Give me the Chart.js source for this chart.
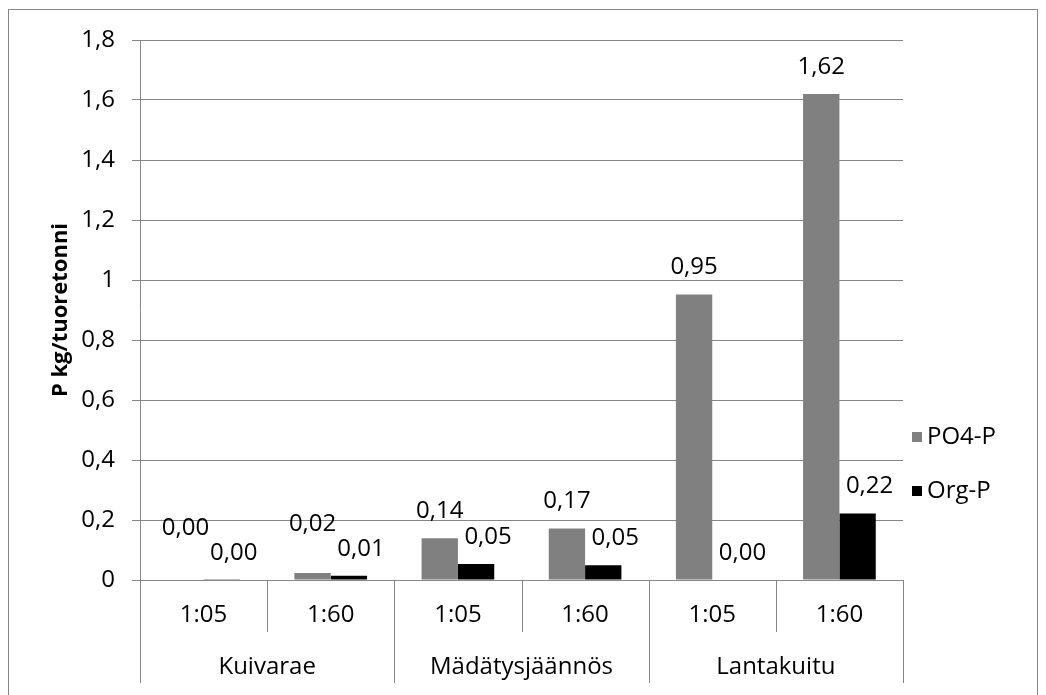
<!DOCTYPE html>
<html>
<head>
<meta charset="utf-8">
<script src="https://cdn.jsdelivr.net/npm/chart.js@4.4.0/dist/chart.umd.min.js"></script>
<style>
  html, body { margin: 0; padding: 0; background: #ffffff; }
  #wrap { width: 1046px; height: 695px; position: relative; }
</style>
</head>
<body>
<div id="wrap"><canvas id="c" width="1046" height="695"></canvas></div>
<script>
// Phosphorus per fresh tonne, by material and dilution ratio
const groups = ['Kuivarae', 'Mädätysjäännös', 'Lantakuitu'];
const categories = ['1:05', '1:60', '1:05', '1:60', '1:05', '1:60'];
const po4P = [0.000, 0.023, 0.139, 0.172, 0.952, 1.620];
const orgP = [0.001, 0.014, 0.053, 0.049, 0.000, 0.222];
const seriesNames = ['PO4-P', 'Org-P'];
const yMin = 0, yMax = 1.8, yStep = 0.2;

const FONT = '"Open Sans", Lato, "DejaVu Sans", sans-serif';
const FS = 24;
const GRID = '#868686';
const TXT = '#000000';

Chart.defaults.font.family = FONT;
Chart.defaults.font.size = FS;
Chart.defaults.color = TXT;

const comma = (v, d) => v.toFixed(d).replace('.', ',');

// white background and outer frame
const framePlugin = {
  id: 'frame',
  beforeDraw(chart) {
    const ctx = chart.ctx;
    ctx.save();
    ctx.fillStyle = '#ffffff';
    ctx.fillRect(0, 0, chart.width, chart.height);
    ctx.strokeStyle = GRID;
    ctx.lineWidth = 1;
    ctx.strokeRect(8.5, 9.5, 1029, 700);
    ctx.restore();
  }
};

// two-level category axis: separators and group names
const groupAxisPlugin = {
  id: 'groupAxis',
  afterDraw(chart) {
    const xs = chart.scales.x;
    const ctx = chart.ctx;
    const n = categories.length;
    const per = n / groups.length;
    const step = (xs.right - xs.left) / n;
    const top = xs.top;
    ctx.save();
    ctx.strokeStyle = GRID;
    ctx.lineWidth = 1;
    for (let i = 0; i <= n; i++) {
      const x = Math.round(xs.left + i * step) + 0.5;
      const isGroupEdge = i % per === 0;
      ctx.beginPath();
      ctx.moveTo(x, top);
      ctx.lineTo(x, top + (isGroupEdge ? 103 : 52));
      ctx.stroke();
    }
    ctx.fillStyle = TXT;
    ctx.font = FS + 'px ' + FONT;
    ctx.textAlign = 'center';
    ctx.textBaseline = 'middle';
    groups.forEach((g, gi) => {
      const cx = xs.left + (gi * per + per / 2) * step;
      ctx.fillText(g, cx, top + 87);
    });
    ctx.restore();
  }
};

// value labels above the bars
const valueLabelPlugin = {
  id: 'valueLabels',
  afterDatasetsDraw(chart) {
    const ctx = chart.ctx;
    const m0 = chart.getDatasetMeta(0), m1 = chart.getDatasetMeta(1);
    const GAP = 27, LINE = 25, SHIFT = 12;
    ctx.save();
    ctx.fillStyle = TXT;
    ctx.font = FS + 'px ' + FONT;
    ctx.textAlign = 'center';
    ctx.textBaseline = 'middle';
    for (let i = 0; i < categories.length; i++) {
      const a = m0.data[i], b = m1.data[i];
      const ta = comma(po4P[i], 2), tb = comma(orgP[i], 2);
      const wa = ctx.measureText(ta).width, wb = ctx.measureText(tb).width;
      const ax = a.x, bx = b.x + SHIFT;
      let ay = a.y - GAP;
      const by = b.y - GAP;
      const hGap = (bx - wb / 2) - (ax + wa / 2);
      if (hGap < 10 && Math.abs(ay - by) < LINE) ay = by - LINE;
      ctx.fillText(ta, ax, ay);
      ctx.fillText(tb, bx, by);
    }
    ctx.restore();
  }
};

// legend on the right
const sideLegendPlugin = {
  id: 'sideLegend',
  afterDraw(chart) {
    const ctx = chart.ctx;
    const x0 = 912, y0 = 437, dy = 54;
    ctx.save();
    ctx.font = FS + 'px ' + FONT;
    ctx.textAlign = 'left';
    ctx.textBaseline = 'middle';
    chart.data.datasets.forEach((ds, i) => {
      const y = y0 + i * dy;
      ctx.fillStyle = ds.backgroundColor;
      ctx.fillRect(x0, y - 5, 10, 10);
      ctx.fillStyle = TXT;
      ctx.fillText(ds.label, x0 + 15, y);
    });
    ctx.restore();
  }
};

new Chart(document.getElementById('c'), {
  type: 'bar',
  data: {
    labels: categories,
    datasets: [
      { label: seriesNames[0], data: po4P, backgroundColor: '#808080' },
      { label: seriesNames[1], data: orgP, backgroundColor: '#000000' }
    ]
  },
  options: {
    responsive: false,
    animation: false,
    devicePixelRatio: 1,
    datasets: { bar: { categoryPercentage: 2 / 3.5, barPercentage: 1.0 } },
    layout: { padding: { left: 0, top: 40, right: 143, bottom: 0 } },
    plugins: { legend: { display: false }, tooltip: { enabled: false } },
    scales: {
      x: {
        type: 'category',
        grid: { display: true, drawOnChartArea: false, drawTicks: false, color: GRID },
        border: { display: true, color: GRID, width: 1 },
        ticks: { padding: 21, maxRotation: 0, autoSkip: false, color: TXT, font: { size: FS } },
        afterFit(s) { s.height = 115; s.paddingLeft = 0; s.paddingRight = 0; }
      },
      y: {
        min: yMin,
        max: yMax,
        grid: { color: GRID, lineWidth: 1, drawTicks: true, tickLength: 8, tickColor: GRID },
        border: { display: true, color: GRID, width: 1 },
        ticks: {
          stepSize: yStep,
          padding: 17,
          color: TXT,
          font: { size: FS },
          callback: v => String(Math.round(v * 10) / 10).replace('.', ',')
        },
        title: {
          display: true,
          text: 'P kg/tuoretonni',
          color: TXT,
          font: { size: 22, weight: 'bold', lineHeight: 1.2 },
          padding: { top: 48, bottom: 0 }
        },
        afterFit(s) { s.width = 140; s.paddingTop = 0; s.paddingBottom = 0; }
      }
    }
  },
  plugins: [framePlugin, groupAxisPlugin, valueLabelPlugin, sideLegendPlugin]
});
</script>
</body>
</html>
